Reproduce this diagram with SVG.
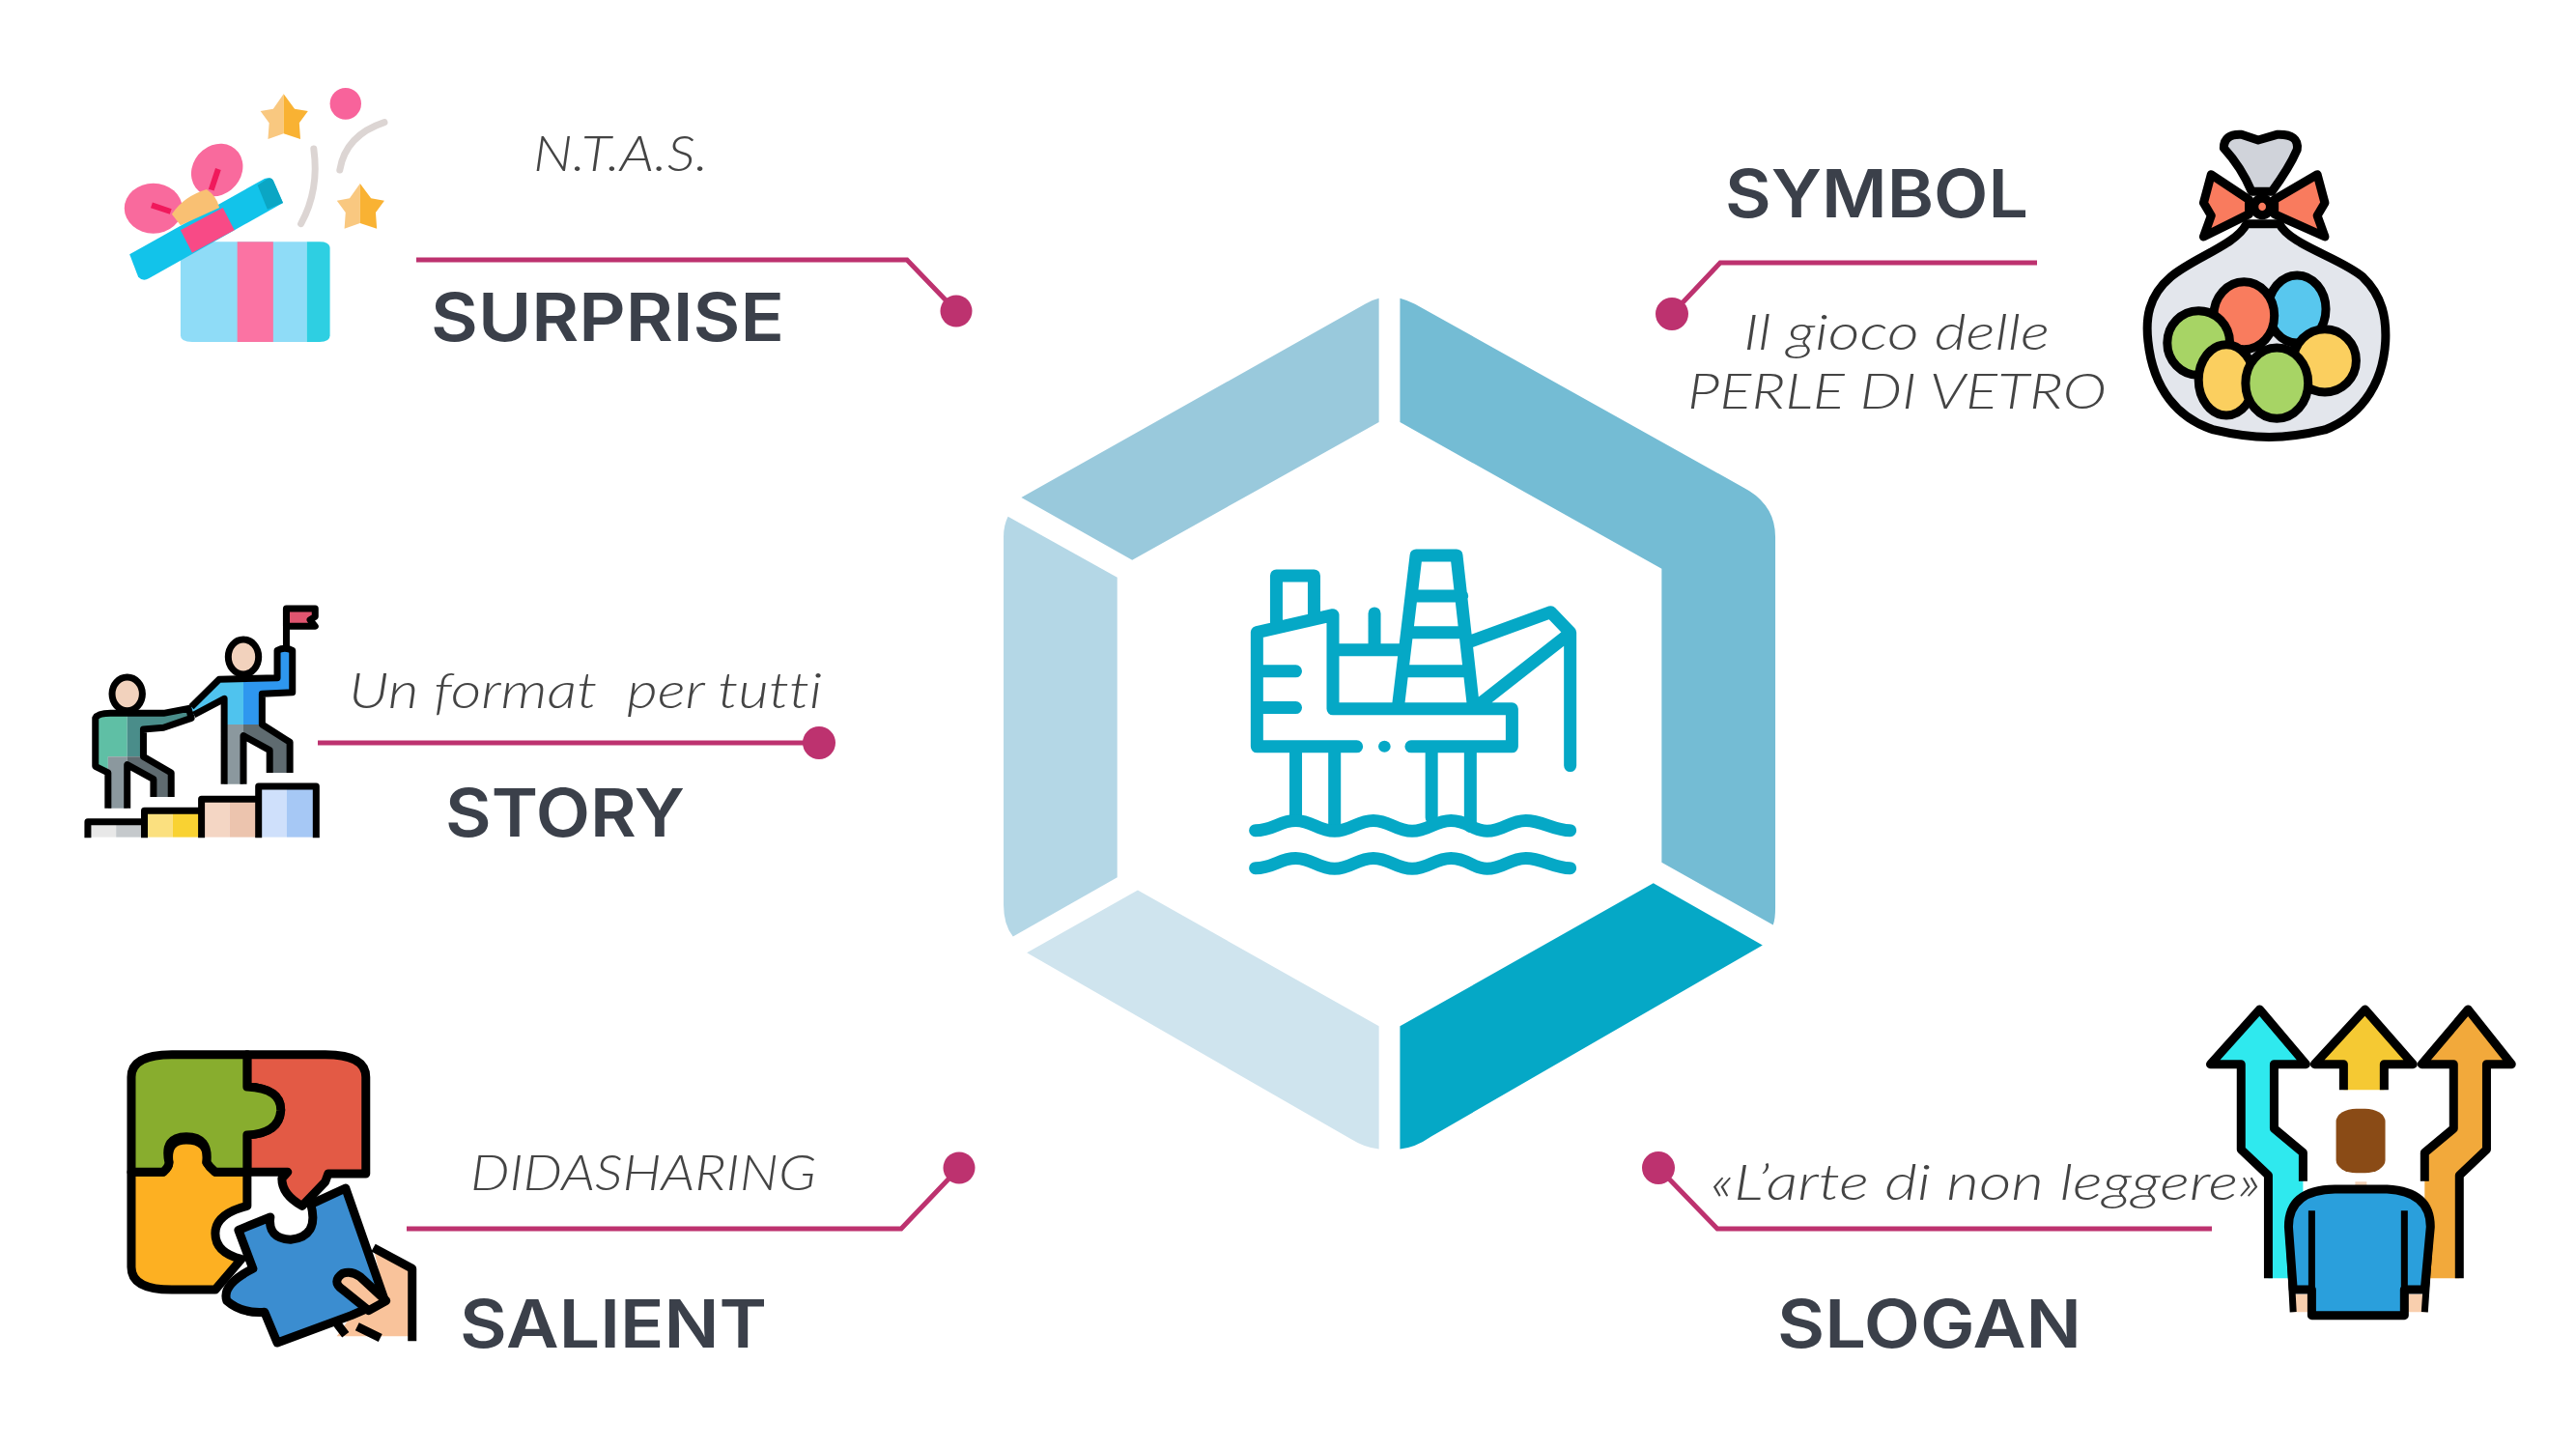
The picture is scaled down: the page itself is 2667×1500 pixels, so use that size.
<svg xmlns="http://www.w3.org/2000/svg" width="2667" height="1500" viewBox="0 0 2667 1500">
<style>
.h{font-family:"Inter","Open Sans","Liberation Sans",sans-serif;font-weight:600;font-size:69px;fill:#3b404a}
.s{font-family:"Lato","Open Sans","Liberation Sans",sans-serif;font-weight:300;font-style:italic;font-size:52px;fill:#444;white-space:pre;font-variant-ligatures:none}
.c{fill:none;stroke:#bd326f;stroke-linejoin:miter}
.d{fill:#bd326f}
.k{stroke:#000;stroke-width:9;stroke-linejoin:round;vector-effect:non-scaling-stroke}
.k7{stroke:#000;stroke-width:7;stroke-linejoin:round;vector-effect:non-scaling-stroke}
.k4{stroke:#000;stroke-width:7;stroke-linejoin:round;fill:none;vector-effect:non-scaling-stroke}
.r{fill:none;stroke:#05a8c6;stroke-width:13;stroke-linecap:round;stroke-linejoin:round;vector-effect:non-scaling-stroke}
</style>
<defs>
<g id="star"><path fill="#f9c880" d="M323 82L305 128L283 135L298 172L296 222L323 205Z"/><path fill="#f9b233" d="M323 82L342 128L365 135L350 172L352 222L323 205Z"/></g>
</defs>
<rect width="2667" height="1500" fill="#fff"/>
<g id="hexagon" transform="translate(1000 280) scale(.574 .5995)">
<path id="seg-top-left" fill="#99c9dc" d="M745 48V262L300 500L100 392L720 58Q732 51 745 48Z"/>
<path id="seg-top-right" fill="#74bcd4" d="M783 48Q795 51 810 58L1405 376Q1460 405 1460 460V1100Q1460 1120 1456 1130L1255 1022V515L783 262Z"/>
<path id="seg-left" fill="#b4d7e6" d="M76 425L273 530V1048L85 1150Q68 1130 68 1095V460Q68 440 76 425Z"/>
<path id="seg-bottom-left" fill="#cfe4ee" d="M310 1070L745 1305V1517Q720 1515 695 1500L110 1178Z"/>
<path id="seg-bottom-right" fill="#05a8c6" d="M783 1305L1240 1058L1437 1165L840 1495Q810 1515 783 1517Z"/>
</g>
<g id="platform" transform="translate(1000 280) scale(.574 .5995)">
<path class="r" d="M560 610V527H628V600M525 625L662 595V757H985V822H803M705 822H525V625M525 692H595M525 755H595M737 592V655M662 655H790M780 750L812 492H885L915 750M805 562H895M800 625H900M790 692H905M912 640L1055 590L1090 625V855M925 750L1085 630M595 830V945M665 830V960M840 830V945M910 830V960"/>
<path class="r" d="M522 967C555 967 565 950 595 950C625 950 635 968 665 968C695 968 705 950 735 950C765 950 775 968 805 968C835 968 845 950 875 950C905 950 915 968 940 968C970 968 980 950 1010 950C1040 950 1060 967 1090 967"/>
<path class="r" d="M522 1032C555 1032 565 1015 595 1015C625 1015 635 1033 665 1033C695 1033 705 1015 735 1015C765 1015 775 1033 805 1033C835 1033 845 1015 875 1015C905 1015 915 1033 940 1033C970 1033 980 1015 1010 1015C1040 1015 1060 1032 1090 1032"/>
<ellipse cx="755" cy="822" rx="11" ry="10" fill="#05a8c6"/>
</g>
<g id="connectors">
<path class="c" stroke-width="5" d="M431 269H939L990 322"/><circle class="d" cx="990" cy="322" r="16.5"/>
<path class="c" stroke-width="5" d="M329 769H848"/><circle class="d" cx="848" cy="769" r="17"/>
<path class="c" stroke-width="5" d="M421 1272H933L993 1209"/><circle class="d" cx="993" cy="1209" r="16.5"/>
<path class="c" stroke-width="5" d="M2109 272H1781L1731 325"/><circle class="d" cx="1731" cy="325" r="17"/>
<path class="c" stroke-width="5" d="M2290 1272H1778L1717 1209"/><circle class="d" cx="1717" cy="1209" r="17"/>
</g>
<g id="surprise">
<g transform="translate(100 70) scale(.5995 .3333)">
<path fill="#8fdcf7" d="M165 541H363V852H165Q145 852 145 832V561Q145 541 165 541Z"/>
<rect x="243" y="541" width="62" height="311" fill="#fb73a3"/>
<path fill="#2ecfe2" d="M363 541H385Q403 541 403 561V832Q403 852 385 852H363Z"/>
<ellipse cx="98" cy="437" rx="50" ry="78" fill="#f96a9d"/>
<ellipse cx="208" cy="318" rx="44" ry="82" fill="#f96a9d" transform="rotate(6 208 318)"/>
<path stroke="#f0195c" stroke-width="6" vector-effect="non-scaling-stroke" d="M95 427L128 447M210 315L198 380" fill="none"/>
<path fill="#12c3ea" d="M57 580L290 345Q300 338 305 350L322 420L90 655Q80 665 72 650Z"/>
<path fill="#0ba6c4" d="M278 365L295 345Q302 338 305 350L322 420L295 440Z"/>
<path fill="#f84a86" d="M145 505L218 435L238 505L165 575Z"/>
<path fill="#f9c073" d="M130 455Q150 400 190 378Q208 400 212 435L145 490Z"/>
<use href="#star"/><use href="#star" x="132" y="278"/>
<ellipse cx="430" cy="112" rx="27" ry="49" fill="#f8639b"/>
<path fill="none" stroke="#dcd5d3" stroke-width="7" stroke-linecap="round" vector-effect="non-scaling-stroke" d="M375 252Q385 380 353 485M420 318Q430 210 497 170"/>
</g>
<text class="s" x="552" y="177" textLength="181" lengthAdjust="spacingAndGlyphs">N.T.A.S.</text>
<text class="h" x="446" y="353" textLength="366" lengthAdjust="spacingAndGlyphs">SURPRISE</text>
</g>
<g id="story">
<g transform="translate(70 610) scale(.523 .3333)">
<rect x="40" y="722" width="56" height="48" fill="#e8e8e8"/><rect x="96" y="722" width="56" height="48" fill="#c5c9cc"/>
<rect x="152" y="688" width="56" height="82" fill="#fbe07f"/><rect x="208" y="688" width="57" height="82" fill="#f9d232"/>
<rect x="265" y="652" width="56" height="118" fill="#f4d6c4"/><rect x="321" y="652" width="57" height="118" fill="#ecc4ae"/>
<rect x="378" y="612" width="56" height="158" fill="#cfe0fb"/><rect x="434" y="612" width="58" height="158" fill="#a6c8f5"/>
<path class="k7" fill="none" d="M40 772V722H152V688H265V652H378V612H492V772M152 772V722M265 772V688M378 772V652"/>
<path fill="#5fbfa5" d="M55 400Q60 385 85 385H118V520H80V570L55 550Z"/>
<path fill="#4a8d8a" d="M118 385H190L240 370L245 400L190 430L150 435V520H118Z"/>
<path fill="#8b989e" d="M80 520H118V680H80Z"/><path fill="#5f6b70" d="M118 520H150L205 570V645H170V590L118 545Z"/>
<path class="k7" fill="none" d="M80 680V570L55 550V400Q60 385 85 385H190L240 370L245 400L190 430L150 435V520L205 570V645M170 645V590L118 545V680"/>
<ellipse class="k7" cx="118" cy="325" rx="30" ry="52" fill="#f2d2bd"/>
<path fill="#4fc3ee" d="M245 365L300 280H348V420H310V340L250 390Z"/>
<path fill="#2e97ef" d="M348 275H415V190H445V320L385 325V420H348Z"/>
<path fill="#8b989e" d="M310 420H348V605H310Z"/><path fill="#5f6b70" d="M348 420H385L440 475V570H400V500L348 455Z"/>
<path class="k7" fill="none" d="M310 605V340L250 390M245 365L300 280L415 275V190Q430 178 445 190V320L385 325V420L440 475V570M400 570V500L348 455V605"/>
<ellipse class="k7" cx="348" cy="210" rx="30" ry="54" fill="#f2d2bd"/>
<path class="k7" fill="#e0556f" d="M433 60H490V85L480 95L490 115H433Z"/>
<path class="k7" fill="none" d="M433 60V180"/>
</g>
<text class="s" x="361" y="733" textLength="490" lengthAdjust="spacingAndGlyphs">Un format  per tutti</text>
<text class="h" x="461" y="866" textLength="248" lengthAdjust="spacingAndGlyphs">STORY</text>
</g>
<g id="salient">
<g transform="translate(100 1060) scale(.5995 .3333)">
<path fill="#fdb022" class="k" d="M60 460H115Q125 445 125 430Q120 360 155 360Q195 360 190 430Q195 445 205 460H260V565Q205 590 205 650Q205 710 250 730L205 825H130Q60 825 60 755Z"/>
<path fill="#e35a45" class="k" d="M260 95H395Q465 95 465 165V465H400L395 490L355 565Q320 530 320 480L330 460H260V345Q315 340 318 270Q320 200 260 195Z"/>
<path fill="#88ad2e" class="k" d="M60 165Q60 95 130 95H260V195Q320 200 318 270Q315 340 260 345V460H205Q195 445 190 430Q195 350 155 350Q115 350 125 430Q125 445 115 460H60Z"/>
<path fill="#f9c39b" d="M478 695L545 760V970H415L440 905L500 860Z"/>
<path class="k" fill="none" d="M478 695L545 760V985M415 930L430 965M490 975L450 940"/>
<path fill="#3b8dd0" class="k" d="M430 510L498 860L440 905L312 990L290 895Q250 900 225 860Q215 810 270 760L245 640L300 600Q295 665 335 670Q385 660 370 560Z"/>
<path fill="#f9c39b" class="k" d="M425 775Q405 800 425 825L470 890L500 860L455 785Q440 765 425 775Z"/>
</g>
<text class="s" x="487" y="1232" textLength="358" lengthAdjust="spacingAndGlyphs">DIDASHARING</text>
<text class="h" x="476" y="1395" textLength="318" lengthAdjust="spacingAndGlyphs">SALIENT</text>
</g>
<g id="symbol">
<g transform="translate(1680 110) scale(.523 .3333)">
<path class="k" fill="#e3e6ec" d="M1235 365C1215 430 1130 470 1085 530C1040 590 1035 660 1040 730C1050 880 1100 970 1170 1005C1250 1035 1310 1035 1390 1005C1450 970 1505 880 1510 730C1512 660 1505 590 1465 530C1420 470 1320 430 1300 365Z"/>
<path class="k" fill="#d0d3da" d="M1190 130Q1190 85 1225 88L1258 105L1295 88Q1340 85 1335 135Q1320 190 1285 265H1245Q1225 190 1190 130Z"/>
<path class="k" fill="#f97b5e" d="M1240 290L1165 212L1150 300L1165 340L1150 405L1240 335Z"/>
<path class="k" fill="#f97b5e" d="M1290 290L1375 212L1390 300L1375 340L1390 405L1290 335Z"/>
<ellipse class="k" cx="1266" cy="312" rx="16" ry="26" fill="#f97b5e"/>
<ellipse class="k" cx="1335" cy="630" rx="57" ry="105" fill="#58c7ee"/>
<ellipse class="k" cx="1230" cy="650" rx="60" ry="105" fill="#f97c5e"/>
<ellipse class="k" cx="1390" cy="790" rx="62" ry="98" fill="#fbcf5f"/>
<ellipse class="k" cx="1140" cy="735" rx="62" ry="100" fill="#a7d465"/>
<ellipse class="k" cx="1195" cy="850" rx="55" ry="110" fill="#fbcf5f"/>
<ellipse class="k" cx="1295" cy="860" rx="62" ry="110" fill="#a7d465"/>
</g>
<text class="h" x="1786" y="225" textLength="314" lengthAdjust="spacingAndGlyphs">SYMBOL</text>
<text class="s" x="1805" y="362" textLength="317" lengthAdjust="spacingAndGlyphs">Il gioco delle</text>
<text class="s" x="1747" y="423" textLength="434" lengthAdjust="spacingAndGlyphs">PERLE DI VETRO</text>
</g>
<g id="slogan">
<g transform="translate(1680 1030) scale(.5995 .3333)">
<path fill="#2fe9ee" d="M1175 880V490L1125 415V215H1180L1100 45L1010 215H1065V480L1115 560V880Z"/>
<path class="k" fill="none" d="M1175 578V490L1125 415V215H1180L1100 45L1015 215H1068V480L1115 560V880"/>
<path fill="#f2a93b" d="M1385 880V490L1435 415V215H1380L1460 45L1540 215H1495V480L1445 560V880Z"/>
<path class="k" fill="none" d="M1385 578V490L1435 415V215H1380L1460 45L1535 215H1492V480L1445 560V880"/>
<path class="k" fill="#f5c933" d="M1245 295V215H1195L1282 45L1365 215H1315V295"/>
<rect x="1232" y="353" width="85" height="200" rx="35" ry="40" fill="#8a4b16"/>
<rect x="1265" y="580" width="20" height="22" fill="#f2d0b5"/>
<path fill="#f9cfae" d="M1155 930H1390V985H1155Z"/>
<path class="k" fill="#2a9fdc" d="M1150 720Q1150 605 1230 603H1320Q1395 610 1395 720L1385 915H1350V995H1190V915H1158Z"/>
<path class="k4" d="M1190 670V990M1350 670V990M1150 720L1158 985M1395 720L1385 985"/>
</g>
<text class="s" x="1771" y="1242" textLength="570" lengthAdjust="spacingAndGlyphs">«L’arte di non leggere»</text>
<text class="h" x="1840" y="1395" textLength="315" lengthAdjust="spacingAndGlyphs">SLOGAN</text>
</g>
</svg>
